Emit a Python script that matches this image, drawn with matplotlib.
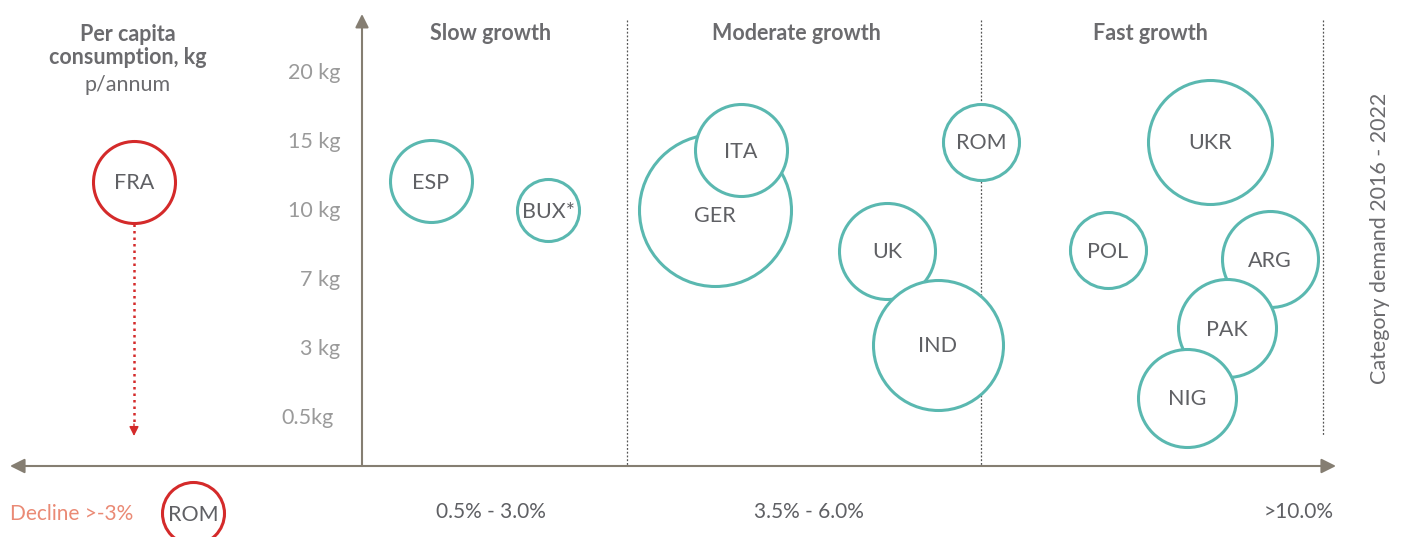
import matplotlib
matplotlib.use('Agg')
import matplotlib.pyplot as plt

plt.rcParams['font.family'] = ['Lato', 'DejaVu Sans']

# bubble data: label, growth position, consumption level (tick index), radius (px)
growth_labels = ['ESP', 'BUX*', 'GER', 'ITA', 'ROM', 'UK', 'IND', 'UKR', 'POL', 'ARG', 'PAK', 'NIG']
growth_x = [431, 548, 715, 741, 981, 887, 938, 1210, 1108, 1270, 1227, 1187]
growth_y = [3.43, 3.01, 3.01, 3.88, 4.0, 2.42, 1.06, 4.0, 2.43, 2.30, 1.30, 0.29]
growth_r = [41, 31, 76, 46, 38, 48, 65, 62, 38, 48, 49, 49]

decline_labels = ['FRA', 'ROM']
decline_x = [134, 193]
decline_y = [3.42, -1.38]
decline_r = [41, 31]

ytick_labels = ['0.5kg', '3 kg', '7 kg', '10 kg', '15 kg', '20 kg']
ytick_pos = [0, 1, 2, 3, 4, 5]

band_names = ['Slow growth', 'Moderate growth', 'Fast growth']
band_name_x = [491, 796, 1150]
band_edges = [627, 981, 1323]
band_ranges = ['0.5% - 3.0%', '3.5% - 6.0%', '>10.0%']
band_range_x = [491, 809, 1299]

TEAL = '#5ab8b0'
RED = '#d42a2a'
TXT = '#5f6064'
AXC = '#857e72'
FS = 15.5

fig = plt.figure(figsize=(14.06, 5.37), dpi=100)
ax = fig.add_axes([0, 0, 1, 1])
ax.set_xlim(0, 1406)
ax.set_ylim((418 - 537) / 69.0, 418 / 69.0)
ax.axis('off')

def px2y(p):
    return (418 - p) / 69.0

# axes arrows
ax.annotate('', xy=(10, px2y(466)), xytext=(1336, px2y(466)),
            arrowprops=dict(arrowstyle='<|-|>', color=AXC, lw=1.5,
                            mutation_scale=22, shrinkA=0, shrinkB=0), zorder=1)
ax.annotate('', xy=(362, px2y(14)), xytext=(362, px2y(466)),
            arrowprops=dict(arrowstyle='-|>', color=AXC, lw=1.5,
                            mutation_scale=20, shrinkA=0, shrinkB=0), zorder=1)

# band dividers
for i, e in enumerate(band_edges):
    bottom = px2y(435) if i == len(band_edges) - 1 else px2y(466)
    ax.plot([e, e], [px2y(20), bottom], color='#555555', lw=0.9,
            ls=(0, (1.5, 1.5)), zorder=1)

# FRA decline arrow
ax.plot([134, 134], [px2y(224), px2y(426)], color=RED, lw=1.8,
        ls=(0, (1, 1.6)), zorder=1)
ax.annotate('', xy=(134, px2y(436)), xytext=(134, px2y(424)),
            arrowprops=dict(arrowstyle='-|>', color=RED, lw=1,
                            mutation_scale=14, shrinkA=0, shrinkB=0), zorder=1)

pt = 72.0 / 100
for lab, x, y, r in zip(growth_labels, growth_x, growth_y, growth_r):
    ax.scatter([x], [y], s=(2 * r * pt) ** 2, facecolor='white', edgecolor=TEAL,
               linewidth=2.2, zorder=3)
    dy = -0.08 if lab == 'GER' else -0.02
    ax.text(x, y + dy, lab, ha='center', va='center', fontsize=FS, color=TXT, zorder=4)

for lab, x, y, r in zip(decline_labels, decline_x, decline_y, decline_r):
    ax.scatter([x], [y], s=(2 * r * pt) ** 2, facecolor='white', edgecolor=RED,
               linewidth=2.2, zorder=3)
    ax.text(x, y - 0.02, lab, ha='center', va='center', fontsize=FS, color=TXT, zorder=4)

# y tick labels
for lab, p in zip(ytick_labels, ytick_pos):
    ax.text(340 if p > 0 else 334, p, lab, ha='right', va='center', fontsize=FS,
            color='#9a9a9a')

for name, x in zip(band_names, band_name_x):
    ax.text(x, px2y(33), name, ha='center', va='center', fontsize=FS,
            fontweight='bold', color='#6b6b6e')

for name, x in zip(band_ranges, band_range_x):
    ax.text(x, px2y(512), name, ha='center', va='center', fontsize=15, color=TXT)

ax.text(72, px2y(514), 'Decline >-3%', ha='center', va='center', fontsize=15,
        color='#ea8a75')

ax.text(128, px2y(46), 'Per capita\nconsumption, kg', ha='center', va='center',
        fontsize=FS, fontweight='bold', color='#6b6b6e', linespacing=1.15)
ax.text(128, px2y(85), 'p/annum', ha='center', va='center', fontsize=FS,
        color='#6b6b6e')

ax.text(1380, px2y(238), 'Category demand 2016 - 2022', ha='center', va='center',
        rotation=90, fontsize=FS, color='#6b6b6e')

fig.savefig('out.png', dpi=100)
